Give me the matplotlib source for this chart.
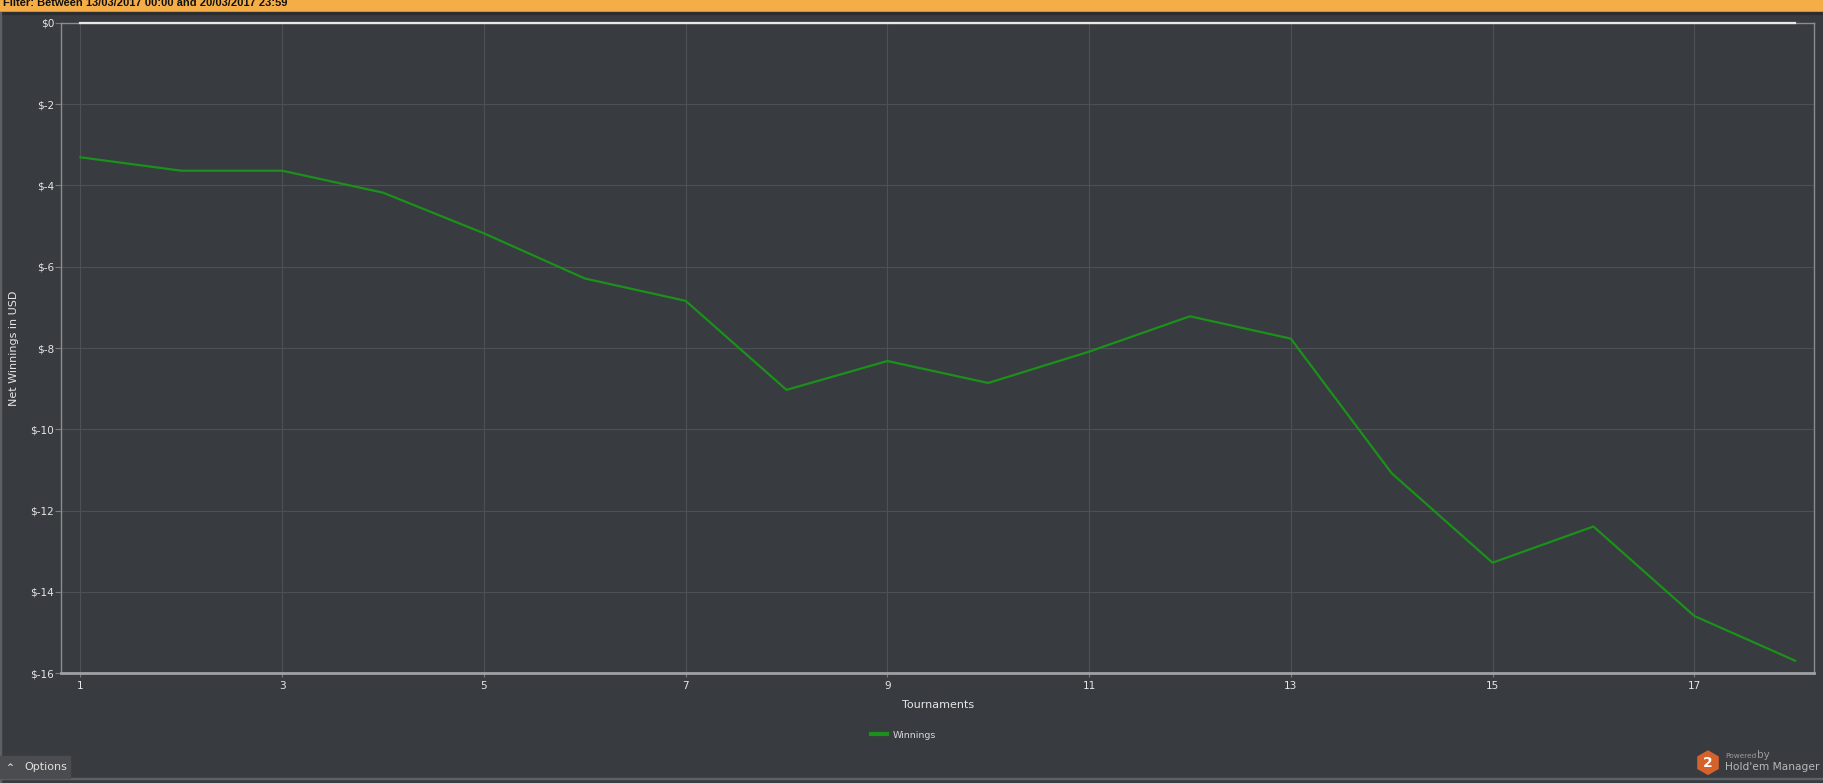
import matplotlib
matplotlib.use("Agg")
import matplotlib.pyplot as plt
from matplotlib.patches import Rectangle, RegularPolygon

# data
tournaments = [1, 2, 3, 4, 5, 6, 7, 8, 9, 10, 11, 12, 13, 14, 15, 16, 17, 18]
winnings = [-3.31, -3.64, -3.64, -4.18, -5.18, -6.29, -6.84, -9.03, -8.32,
            -8.86, -8.09, -7.22, -7.77, -11.08, -13.28, -12.39, -14.59, -15.69]
zero_line = [0, 0, 0, 0, 0, 0, 0, 0, 0, 0, 0, 0, 0, 0, 0, 0, 0, 0]
x_ticks = [1, 3, 5, 7, 9, 11, 13, 15, 17]
y_ticks = [0, -2, -4, -6, -8, -10, -12, -14, -16]
y_labels = ["$0", "$-2", "$-4", "$-6", "$-8", "$-10", "$-12", "$-14", "$-16"]
filter_text = "Filter: Between 13/03/2017 00:00 and 20/03/2017 23:59"

W, H = 1824, 783
BG = "#383b3f"
plt.rcParams['font.family'] = ['DejaVu Sans']


def px(x, y):
    # pixel position (from top left) -> figure fraction
    return x / W, 1 - y / H


fig = plt.figure(figsize=(W / 100, H / 100), dpi=100, facecolor=BG)

left, top, right, bottom = 61.3, 22.7, 1814.3, 673.3
ax = fig.add_axes([left / W, 1 - bottom / H, (right - left) / W, (bottom - top) / H])
ax.set_facecolor(BG)

ax.plot(tournaments, zero_line, color="#e8e8e8", lw=1.6, clip_on=False,
        zorder=4, label="_nolegend_")
ax.plot(tournaments, winnings, color="#1b911b", lw=1.6, label="Winnings", zorder=3)

ax.set_xlim(0.81, 18.19)
ax.set_ylim(-16, 0)
ax.set_xticks(x_ticks)
ax.set_yticks(y_ticks)
ax.set_yticklabels(y_labels)
ax.grid(True, color="#4d5054", lw=0.8)
ax.set_axisbelow(True)

ax.tick_params(axis="y", length=4, width=0.8, color="#7a7c80", pad=1,
               labelsize=7.6, labelcolor="#e6e6e6")
ax.tick_params(axis="x", length=3, width=0.8, color="#7a7c80", pad=2.5,
               labelsize=7.6, labelcolor="#e6e6e6")

for side in ["left", "right", "top"]:
    ax.spines[side].set_color("#8c8d90")
    ax.spines[side].set_linewidth(1)
ax.spines["bottom"].set_color("#a0a1a4")
ax.spines["bottom"].set_linewidth(2)

ax.set_xlabel("Tournaments", fontsize=8, color="#e6e6e6", va="center")
ax.xaxis.set_label_coords(0.5, -(705 - bottom) / (bottom - top))
ax.set_ylabel("Net Winnings in USD", fontsize=8, color="#e6e6e6", va="center")
ax.yaxis.set_label_coords((14 - left) / (right - left), 0.5)

leg = ax.legend(loc="center left", bbox_to_anchor=px(870.7, 735),
                bbox_transform=fig.transFigure, frameon=False, fontsize=6.8,
                handlelength=1.75, handletextpad=0.6, borderpad=0,
                borderaxespad=0, labelcolor="#d8d8d8")
for h in leg.get_lines():
    h.set_linewidth(3)

# header bar with the filter
fig.patches.append(Rectangle(px(0, 12), 1, 12 / H, transform=fig.transFigure,
                             color="#f4ad47", zorder=0))
fig.patches.append(Rectangle(px(0, 13.5), 1, 1.5 / H, transform=fig.transFigure,
                             color="#2b2d30", zorder=0))
fig.text(*px(3, 6.5), filter_text, family=["Liberation Sans", "DejaVu Sans"],
         weight="bold", fontsize=8, color="#111111", va="baseline", ha="left")

# window borders
fig.patches.append(Rectangle(px(0, H), 1.2 / W, 1 - 12 / H, transform=fig.transFigure,
                             color="#5e6064", zorder=0))
fig.patches.append(Rectangle(px(0, 779), 1, 1.5 / H, transform=fig.transFigure,
                             color="#5e6064", zorder=0))

# options button
fig.patches.append(Rectangle(px(0, 777.7), 70 / W, 21.7 / H, transform=fig.transFigure,
                             color="#4b4c4f", zorder=1))
fig.text(*px(10, 767.5), "^", fontsize=6, color="#e0e0e0", ha="center", va="center",
         weight="bold")
fig.text(*px(24, 766.7), "Options", fontsize=8, color="#e0e0e0", ha="left", va="center")

# powered by logo
hexagon = RegularPolygon((1708 / 100, (H - 762.7) / 100), numVertices=6, radius=0.125,
                         orientation=0, transform=fig.dpi_scale_trans,
                         facecolor="#d4622a", edgecolor="none")
fig.patches.append(hexagon)
fig.text(*px(1708, 763), "2", fontsize=10, weight="bold", color="white",
         ha="center", va="center")
fig.text(*px(1725, 758), "Powered", fontsize=5.3, color="#9c9c9c", ha="left",
         va="baseline")
fig.text(*px(1757, 758), "by", fontsize=7.5, color="#9c9c9c", ha="left",
         va="baseline")
fig.text(*px(1725, 769.5), "Hold'em Manager", fontsize=7.7, color="#b8b8b8",
         ha="left", va="baseline")

fig.savefig("out.png", dpi=100, facecolor=BG)
